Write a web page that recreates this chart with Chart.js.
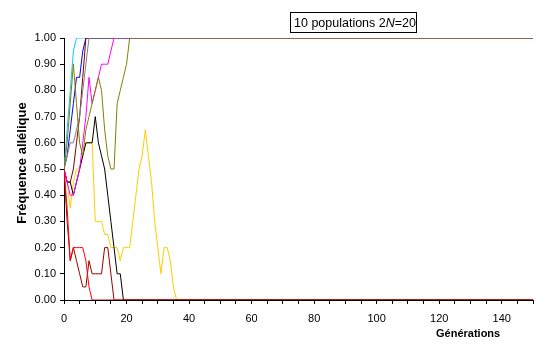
<!DOCTYPE html>
<html>
<head>
<meta charset="utf-8">
<script src="https://cdn.jsdelivr.net/npm/chart.js@4.4.1/dist/chart.umd.min.js"></script>
<style>
html,body{margin:0;padding:0;background:#fff;}
#wrap{width:548px;height:353px;position:relative;}
</style>
</head>
<body>
<div id="wrap"><canvas id="c" width="548" height="353"></canvas></div>
<script>
// Data: allele frequency per generation (index = generation), last value holds to gen 150
const lastGeneration = 150;
const xTickStep = 5;
const xLabelStep = 20;
const yTickStep = 0.1;

const olive   = [0.5,0.6,0.75,0.9,0.75,0.6,0.55,0.65,0.7,0.75,0.8,0.85,0.8,0.65,0.55,0.5,0.5,0.75,0.8,0.85,0.9,1.0];
const red     = [0.5,0.35,0.15,0.2,0.2,0.2,0.2,0.15,0.05,0.0];
const gray    = [0.5,0.55,0.6,0.6,0.65,0.7,0.8,0.9,1.0];
const cyan    = [0.5,0.65,0.8,0.95,1.0];
const blue    = [0.5,0.55,0.65,0.75,0.85,0.85,0.95,1.0];
const maroonFix = [0.5,0.45,0.45,0.5,0.6,0.7,0.85,1.0];
const magenta = [0.5,0.45,0.4,0.4,0.45,0.5,0.6,0.7,0.85,0.75,0.8,0.85,0.9,0.9,0.9,0.95,1.0];
const yellow  = [0.5,0.45,0.35,0.45,0.5,0.5,0.55,0.6,0.6,0.6,0.3,0.3,0.3,0.25,0.25,0.2,0.2,0.2,0.15,0.2,0.2,0.2,0.3,0.4,0.5,0.55,0.65,0.55,0.45,0.3,0.2,0.1,0.2,0.2,0.15,0.05,0.0];
const black   = [0.5,0.45,0.45,0.4,0.45,0.5,0.55,0.6,0.6,0.6,0.7,0.6,0.55,0.5,0.4,0.3,0.2,0.1,0.1,0.0];
const maroonLost = [0.5,0.3,0.15,0.2,0.15,0.1,0.05,0.05,0.15,0.1,0.1,0.1,0.1,0.2,0.2,0.1,0.0];

// first listed = drawn on top
const seriesList = [
  {values: olive, color: '#808000'},
  {values: red, color: '#FF0000'},
  {values: gray, color: '#808080'},
  {values: magenta, color: '#FF00FF'},
  {values: maroonFix, color: '#800000'},
  {values: blue, color: '#0000FF'},
  {values: cyan, color: '#00CCFF'},
  {values: black, color: '#000000'},
  {values: maroonLost, color: '#990000'},
  {values: yellow, color: '#FFCC00'}
];

function toPoints(vals){
  const pts = vals.map((v,i)=>({x:i,y:v}));
  pts.push({x:lastGeneration, y:vals[vals.length-1]});
  return pts;
}

const FONT = '"Liberation Sans", Arial, sans-serif';
Chart.defaults.font.family = FONT;
Chart.defaults.font.size = 11;
Chart.defaults.color = '#000';

const overlay = {
  id: 'overlay',
  afterDraw(chart){
    const ctx = chart.ctx;
    ctx.save();
    // boxed title
    ctx.strokeStyle = '#000';
    ctx.lineWidth = 1;
    ctx.strokeRect(290.5, 12.5, 126, 20);
    ctx.fillStyle = '#000';
    ctx.textBaseline = 'alphabetic';
    ctx.textAlign = 'left';
    let x = 294;
    const y = 27;
    const parts = [['10 populations 2','normal'],['N','italic'],['=20','normal']];
    parts.forEach(p=>{
      ctx.font = p[1] + ' 12.5px ' + FONT;
      ctx.fillText(p[0], x, y);
      x += ctx.measureText(p[0]).width;
    });
    // axis titles
    ctx.font = 'bold 11px ' + FONT;
    ctx.textAlign = 'left';
    ctx.textBaseline = 'middle';
    ctx.fillText('Générations', 436, 334);
    ctx.font = 'bold 13px ' + FONT;
    ctx.translate(22, 163);
    ctx.rotate(-Math.PI/2);
    ctx.textAlign = 'center';
    ctx.fillText('Fréquence allélique', 0, 0);
    ctx.restore();
  }
};

new Chart(document.getElementById('c'), {
  type: 'line',
  data: {
    datasets: seriesList.map(s=>({
      data: toPoints(s.values),
      borderColor: s.color,
      backgroundColor: s.color,
      borderWidth: 1,
      pointRadius: 0,
      tension: 0,
      fill: false
    }))
  },
  options: {
    responsive: false,
    devicePixelRatio: 1,
    animation: false,
    events: [],
    layout: {padding: {top: 38, right: 15, left: 0, bottom: 0}},
    plugins: {legend: {display: false}, tooltip: {enabled: false}, title: {display: false}},
    scales: {
      x: {
        type: 'linear', min: 0, max: lastGeneration,
        afterFit(s){ s.height = 53; },
        border: {display: true, color: '#000', width: 1},
        grid: {drawOnChartArea: false, drawTicks: true, tickLength: 4, color: '#000'},
        ticks: {stepSize: xTickStep, autoSkip: false, maxRotation: 0, padding: 8,
          callback: v => (v % xLabelStep === 0 ? String(v) : '')}
      },
      y: {
        type: 'linear', min: 0, max: 1,
        afterFit(s){ s.width = 64; },
        border: {display: true, color: '#000', width: 1},
        grid: {drawOnChartArea: false, drawTicks: true, tickLength: 4, color: '#000'},
        ticks: {stepSize: yTickStep, padding: 4, callback: v => Number(v).toFixed(2)}
      }
    }
  },
  plugins: [overlay]
});
</script>
</body>
</html>
